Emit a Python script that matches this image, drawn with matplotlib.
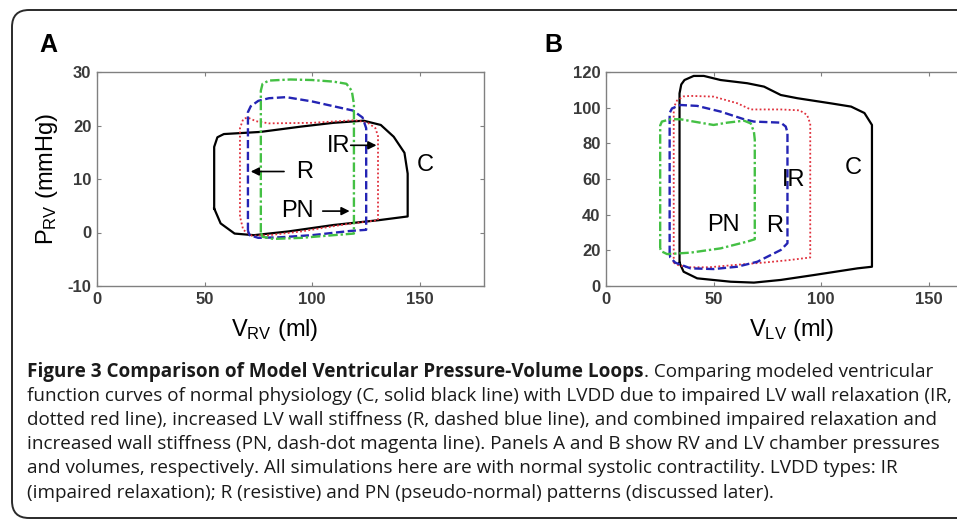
import matplotlib
matplotlib.use('Agg')
import matplotlib.pyplot as plt
from matplotlib.patches import FancyBboxPatch

plt.rcParams['font.family'] = ['Liberation Sans', 'DejaVu Sans']
plt.rcParams['mathtext.fontset'] = 'custom'
plt.rcParams['mathtext.rm'] = 'Liberation Sans'
plt.rcParams['mathtext.it'] = 'Liberation Sans:italic'
plt.rcParams['mathtext.bf'] = 'Liberation Sans:bold'
plt.rcParams['axes.unicode_minus'] = False

# ---- panel A: RV pressure-volume loops (volume ml, pressure mmHg)
rv_c_v = [54.5, 54.5, 56, 59, 76, 95, 110, 124, 132, 138, 143, 144.5, 144.5, 131, 110, 89, 73, 64, 57.5, 54.5]
rv_c_p = [4.5, 16, 17.8, 18.4, 18.8, 19.8, 20.5, 20.9, 20.1, 17.9, 14.9, 11, 3, 2.3, 1.4, 0.2, -0.5, -0.2, 1.7, 4.5]
rv_ir_v = [66.5, 66.5, 68, 70, 74, 80, 100, 120, 126, 129.5, 130.7, 130.7, 115, 95, 80, 72, 68, 66.5]
rv_ir_p = [3, 19.5, 21.2, 21.5, 20.8, 20.4, 20.5, 21, 20.5, 19.5, 18, 2.3, 1.5, 0.2, -0.5, -0.6, 0.5, 3]
rv_r_v = [70.2, 70.2, 71.5, 75, 80, 88, 100, 110, 119, 123.5, 125.2, 125.2, 118, 100, 85, 75, 71, 70.2]
rv_r_p = [0.3, 22.5, 23.6, 24.6, 25.1, 25.3, 24.5, 23.6, 22.8, 21.5, 19.5, 0.5, 0.3, -0.5, -0.9, -1, -0.5, 0.3]
rv_pn_v = [76.2, 76.2, 77, 80, 90, 100, 110, 116, 118.5, 119.5, 119.5, 110, 95, 82, 77, 76.2]
rv_pn_p = [0, 26.5, 27.8, 28.4, 28.6, 28.5, 28.2, 27.8, 26.5, 24, -0.2, -0.5, -1, -1.2, -0.8, 0]

# ---- panel B: LV pressure-volume loops
lv_c_v = [34.2, 34.2, 35, 36.5, 40.8, 45.5, 53.3, 65.7, 73.5, 81.3, 89, 104.7, 114, 120.2, 123.7, 123.7,
          117, 97, 81.3, 68.8, 58, 42.4, 36.1, 34.2]
lv_c_p = [13, 108, 113, 115.5, 117.8, 117.8, 115.5, 113.7, 111.8, 107.1, 105.3, 102.4, 100.6, 97, 90.3, 10.8,
          9.9, 6.2, 3.4, 1.9, 2.4, 4.3, 8, 13]
lv_ir_v = [31.5, 31.5, 33, 36, 39.3, 50, 61, 67.3, 81.3, 90, 93.5, 95, 95, 85, 74, 60, 48, 38, 34, 31.5]
lv_ir_p = [13, 100, 104, 106.3, 106.6, 106.2, 102.5, 99, 99, 98.5, 96, 91, 16, 14.5, 13.2, 11.8, 10.5, 10.5, 11.5, 13]
lv_r_v = [29.6, 29.6, 30.7, 34.6, 42.4, 53.3, 64.2, 68.8, 81.3, 83.6, 84.4, 84.4, 81.3, 70.4, 61, 50, 39.3, 32.2, 29.9, 29.6]
lv_r_p = [18, 97, 99.6, 101.5, 101, 97.8, 93.5, 92.2, 91.6, 89.4, 86, 24, 20.2, 13.6, 10.8, 9.5, 9.9, 13.1, 16, 18]
lv_pn_v = [25.2, 25.2, 26, 29.9, 34.6, 40.8, 50, 56.4, 64.2, 67.3, 68.8, 69.2, 69.2, 65.7, 53.3, 39.3, 28.4, 25.7, 25.2]
lv_pn_p = [21, 90, 92.2, 93.5, 93.5, 92.2, 90.3, 91.6, 92.7, 91.2, 86.5, 82, 26.2, 24.9, 21.1, 18.7, 17.9, 19.5, 21]

vol_ticks = [0, 50, 100, 150]
rv_p_ticks = [-10, 0, 10, 20, 30]
lv_p_ticks = [0, 20, 40, 60, 80, 100, 120]

# labels (text, x, y) and arrows (tail, head)
rv_labels = [('IR', 112.5, 16.2), ('R', 96.5, 11.3), ('PN', 93, 4.0), ('C', 152.5, 12.6)]
rv_arrows = [((118, 16.3), (130, 16.3)), ((87, 11.4), (71.5, 11.4)), ((105, 4.0), (117.5, 4.0))]
lv_labels = [('PN', 54.8, 34), ('R', 78.2, 33.5), ('IR', 87.5, 59.5), ('C', 114.8, 66)]

caption_bold = 'Figure 3 Comparison of Model Ventricular Pressure-Volume Loops'
caption_lines = [
    '. Comparing modeled ventricular',
    'function curves of normal physiology (C, solid black line) with LVDD due to impaired LV wall relaxation (IR,',
    'dotted red line), increased LV wall stiffness (R, dashed blue line), and combined impaired relaxation and',
    'increased wall stiffness (PN, dash-dot magenta line). Panels A and B show RV and LV chamber pressures',
    'and volumes, respectively. All simulations here are with normal systolic contractility. LVDD types: IR',
    '(impaired relaxation); R (resistive) and PN (pseudo-normal) patterns (discussed later).',
]

W, H = 957, 521
fig = plt.figure(figsize=(W / 100, H / 100), dpi=100)

# outer rounded frame
box = FancyBboxPatch((0.12, 0.03), 9.8, 5.08, boxstyle='round,pad=0,rounding_size=0.17',
                     transform=fig.dpi_scale_trans, fill=False, ec='#2a2a2a', lw=1.4)
fig.patches.append(box)

axA = fig.add_axes([97 / W, 1 - 286 / H, 387 / W, 214 / H])
axB = fig.add_axes([606 / W, 1 - 286 / H, 387 / W, 214 / H])

c_col, ir_col, r_col, pn_col = 'black', '#e0303c', '#2424b4', '#44c044'


def loops(ax, c, ir, r, pn):
    ax.plot(c[0], c[1], color=c_col, lw=1.6, solid_joinstyle='round')
    ax.plot(ir[0], ir[1], color=ir_col, lw=1.3, linestyle=(0, (1, 1.3)))
    ax.plot(r[0], r[1], color=r_col, lw=1.7, linestyle=(0, (3.5, 1.5)))
    ax.plot(pn[0], pn[1], color=pn_col, lw=1.7, linestyle=(0, (4, 1.2, 1, 1.2)))


def style(ax, yticks, ylim):
    for s in ax.spines.values():
        s.set_color('#808080')
        s.set_linewidth(1.0)
    ax.set_xlim(0, 180)
    ax.set_ylim(*ylim)
    ax.set_xticks(vol_ticks, labels=[str(v) for v in vol_ticks], fontweight='bold')
    ax.set_yticks(yticks, labels=[str(v) for v in yticks], fontweight='bold')
    ax.tick_params(direction='in', top=True, right=True, length=3, width=0.8, color='#808080',
                   labelsize=12, labelcolor='#3a3a3a', pad=4)


loops(axA, (rv_c_v, rv_c_p), (rv_ir_v, rv_ir_p), (rv_r_v, rv_r_p), (rv_pn_v, rv_pn_p))
style(axA, rv_p_ticks, (-10, 30))
for t, x, y in rv_labels:
    axA.text(x, y, t, fontsize=17, ha='center', va='center')
for tail, head in rv_arrows:
    axA.annotate('', xy=head, xytext=tail,
                 arrowprops=dict(arrowstyle='-|>', color='k', lw=1.2, mutation_scale=12,
                                 shrinkA=0, shrinkB=0))
axA.set_ylabel(r'P$_{\mathrm{RV}}$ (mmHg)', fontsize=17)
axA.yaxis.set_label_coords(-0.095, 0.5)
axA.set_xlabel(r'V$_{\mathrm{RV}}$ (ml)', fontsize=17, va='top')
axA.xaxis.set_label_coords(0.46, -0.145)

loops(axB, (lv_c_v, lv_c_p), (lv_ir_v, lv_ir_p), (lv_r_v, lv_r_p), (lv_pn_v, lv_pn_p))
style(axB, lv_p_ticks, (0, 120))
for t, x, y in lv_labels:
    axB.text(x, y, t, fontsize=17, ha='center', va='center')
axB.set_xlabel(r'V$_{\mathrm{LV}}$ (ml)', fontsize=17, va='top')
axB.xaxis.set_label_coords(0.48, -0.145)

fig.text(48 / W, 1 - 45 / H, 'A', fontsize=18, fontweight='bold', ha='center', va='center')
fig.text(553 / W, 1 - 45 / H, 'B', fontsize=18, fontweight='bold', ha='center', va='center')

# caption, sized so the second line spans its width in the reference
cap_font = ['Open Sans', 'DejaVu Sans']
fig.canvas.draw()
rend = fig.canvas.get_renderer()
x0 = 27 / W
baselines = [377, 401, 425, 449, 473, 498]
probe = fig.text(x0, 0.5, caption_lines[1], fontsize=12, family=cap_font)
size = 12 * 920 / probe.get_window_extent(rend).width
probe.remove()

tb = fig.text(x0, 1 - baselines[0] / H, caption_bold, fontsize=size, family=cap_font,
              fontweight='bold', va='baseline', color='#1a1a1a')
wb = tb.get_window_extent(rend).width
fig.text(x0 + wb / W, 1 - baselines[0] / H, caption_lines[0], fontsize=size, family=cap_font,
         va='baseline', color='#1a1a1a')
for line, yb in zip(caption_lines[1:], baselines[1:]):
    fig.text(x0, 1 - yb / H, line, fontsize=size, family=cap_font, va='baseline', color='#1a1a1a')

fig.savefig('out.png', dpi=100)
